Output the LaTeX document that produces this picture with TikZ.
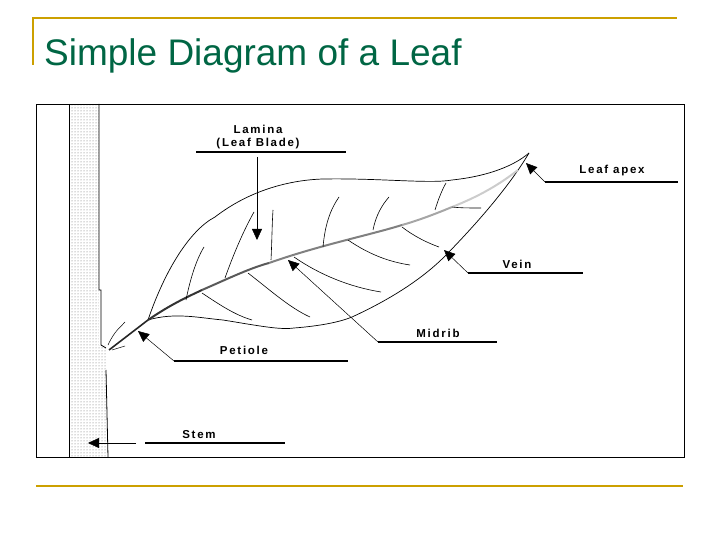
\documentclass[tikz,border=0pt]{standalone}
\usepackage{fontspec}
\setmainfont{Liberation Sans}
\usetikzlibrary{arrows.meta,patterns}
\definecolor{gold}{RGB}{204,160,0}
\definecolor{ttl}{RGB}{0,102,68}
\tikzset{
  lbl/.style={font=\bfseries\fontsize{11.5}{13}\selectfont\addfontfeatures{LetterSpace=15}, inner sep=0pt, align=center},
  uline/.style={line width=1.6pt},
  lead/.style={line width=0.5pt,-{Triangle[length=11pt,width=10pt]}},
  vein/.style={line width=0.6pt},
  edge/.style={line width=0.7pt}
}
\begin{document}
\begin{tikzpicture}[x=1pt,y=-1pt]
\useasboundingbox (0,0) rectangle (720,540);
% slide frame
\draw[gold,line width=2pt] (33,65) -- (33,18) -- (677,18);
\draw[gold,line width=2pt] (36,486) -- (683,486);
\node[anchor=base west,text=ttl,font=\fontsize{37}{40}\selectfont,inner sep=0pt] (title) at (44,66) {Simple Diagram of a Leaf};
% stem
\fill[pattern=dots,pattern color=black!60] (69,104) rectangle (107,457);
\fill[white] (99,104) rectangle (107,345);
\draw[line width=0.8pt] (69,104) -- (69,457);
\draw[line width=0.8pt] (99,104) -- (99,290) -- (101,290) -- (101,345) -- (106,348);
\draw[line width=0.8pt] (106,370) -- (108,457);
% diagram box
\draw[line width=0.6pt] (36,104) rectangle (684,457);
% leaf outline
\draw[edge] (148,320) .. controls (165,270) and (190,230) .. (215,217)
  .. controls (250,190) and (290,180) .. (323,179)
  .. controls (380,178) and (430,184) .. (452,180)
  .. controls (490,176) and (515,165) .. (529,153);
\draw[edge] (148,320) .. controls (175,312) and (200,318) .. (223,320)
  .. controls (260,326) and (280,330) .. (294,328)
  .. controls (320,326) and (340,322) .. (352,317)
  .. controls (400,295) and (430,272) .. (448,253)
  .. controls (480,220) and (510,185) .. (529,153);
% petiole
\draw[line width=1.6pt,black!85] (109,350) -- (148,320);
\draw[line width=0.5pt] (108,345) .. controls (115,330) and (120,328) .. (125,322);
\draw[line width=0.5pt] (112,350) -- (125,346);
% midrib gradient
\draw[line width=2pt,black!80] (148,320) .. controls (170,305) and (185,298) .. (202,290);
\draw[line width=2pt,black!65] (202,290) .. controls (225,280) and (250,268) .. (269,263);
\draw[line width=2pt,black!50] (269,263) .. controls (320,245) and (370,235) .. (402,225);
\draw[line width=2pt,black!35] (402,225) .. controls (420,220) and (440,212) .. (452,207);
\draw[line width=2pt,black!20] (452,207) .. controls (480,196) and (500,184) .. (518,170);
% veins
\draw[vein] (186,300) .. controls (190,280) and (196,260) .. (204,247);
\draw[vein] (225,278) .. controls (235,250) and (245,228) .. (254,212);
\draw[vein] (271,260) .. controls (272,240) and (272,225) .. (273,210);
\draw[vein] (323,247) .. controls (325,225) and (330,210) .. (339,197);
\draw[vein] (373,230) .. controls (376,215) and (382,205) .. (389,197);
\draw[vein] (435,210) .. controls (438,200) and (442,190) .. (446,183);
\draw[vein] (202,293) .. controls (220,305) and (235,315) .. (252,320);
\draw[vein] (248,273) .. controls (270,290) and (290,308) .. (310,317);
\draw[vein] (294,257) .. controls (320,275) and (350,287) .. (381,292);
\draw[vein] (348,240) .. controls (370,255) and (390,262) .. (410,265);
\draw[vein] (402,227) .. controls (415,237) and (428,243) .. (439,247);
\draw[vein] (452,207) .. controls (460,208) and (470,208) .. (481,208);
% labels
\node[lbl] (lam) at (258,137) {Lamina\\(Leaf Blade)};
\coordinate (lamL) at (196,152); \coordinate (lamR) at (346,152);
\draw[uline] (lamL) -- (lamR);
\coordinate (lamS) at (257,157); \coordinate (lamT) at (257,240);
\draw[lead] (lamS) -- (lamT);

\node[lbl] (apx) at (612,171) {Leaf apex};
\coordinate (apxL) at (545,182); \coordinate (apxR) at (678,182);
\draw[uline] (apxL) -- (apxR);
\coordinate (apxT) at (526,163);
\draw[lead] (apxL) -- (apxT);

\node[lbl] (vein) at (517,264) {Vein};
\coordinate (veinL) at (468,273); \coordinate (veinR) at (583,273);
\draw[uline] (veinL) -- (veinR);
\coordinate (veinT) at (444,250);
\draw[lead] (veinL) -- (veinT);

\node[lbl] (mid) at (438,333) {Midrib};
\coordinate (midL) at (378,342); \coordinate (midR) at (497,342);
\draw[uline] (midL) -- (midR);
\coordinate (midT) at (288,260);
\draw[lead] (midL) -- (midT);

\node[lbl] (pet) at (244,350) {Petiole};
\coordinate (petL) at (174,361); \coordinate (petR) at (348,361);
\draw[uline] (petL) -- (petR);
\coordinate (petT) at (138,331);
\draw[lead] (petL) -- (petT);

\node[lbl] (stem) at (199,435) {Stem};
\coordinate (stemL) at (145,443); \coordinate (stemR) at (285,443);
\draw[uline] (stemL) -- (stemR);
\coordinate (stemS) at (136,443); \coordinate (stemT) at (88,443);
\draw[lead] (stemS) -- (stemT);
\end{tikzpicture}
\end{document}
